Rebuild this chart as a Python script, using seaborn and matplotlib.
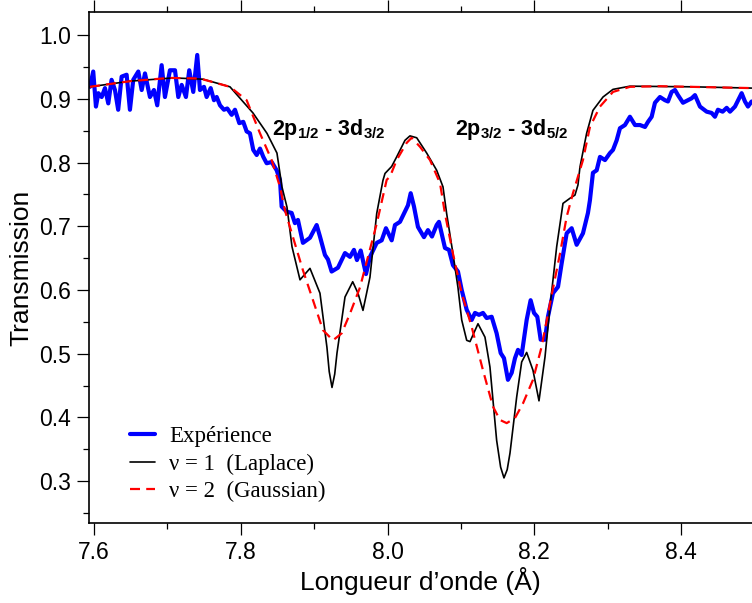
import matplotlib
matplotlib.use("Agg")
import matplotlib.pyplot as plt
import seaborn as sns
import pandas as pd
from matplotlib.ticker import MultipleLocator, FormatStrFormatter

exp_x = [7.5945, 7.599, 7.6027, 7.606, 7.6105, 7.615, 7.6195, 7.624, 7.6286, 7.633,
         7.6377, 7.6445, 7.649, 7.6535, 7.6604, 7.665, 7.6695, 7.6763, 7.6817, 7.6862,
         7.6922, 7.6967, 7.7035, 7.7104, 7.7149, 7.7195, 7.7253, 7.7298, 7.7353, 7.7407,
         7.7444, 7.7499, 7.7535, 7.759, 7.7635, 7.7672, 7.7717, 7.7771, 7.7816, 7.7876,
         7.7921, 7.798, 7.8034, 7.808, 7.8125, 7.817, 7.8217, 7.8262, 7.8307, 7.8353,
         7.8421, 7.8489, 7.8534, 7.8557, 7.8625, 7.8693, 7.8738, 7.8779, 7.8847, 7.8943,
         7.9034, 7.9079, 7.9147, 7.9188, 7.9238, 7.9324, 7.942, 7.9488, 7.9542, 7.9583,
         7.9634, 7.9706, 7.976, 7.9852, 7.992, 7.9978, 8.0056, 8.0101, 8.0169, 8.0237,
         8.0278, 8.0315, 8.036, 8.0414, 8.0496, 8.055, 8.0605, 8.0669, 8.07, 8.0782,
         8.0837, 8.0891, 8.0959, 8.101, 8.1078, 8.1146, 8.1191, 8.1245, 8.13, 8.135,
         8.1418, 8.1486, 8.1541, 8.1586, 8.164, 8.1691, 8.1736, 8.1777, 8.1827, 8.1895,
         8.1949, 8.1995, 8.204, 8.2086, 8.2145, 8.2185, 8.2253, 8.2322, 8.2372, 8.244,
         8.2508, 8.2576, 8.2662, 8.273, 8.2757, 8.2798, 8.2849, 8.2894, 8.2962, 8.303,
         8.3071, 8.3121, 8.3166, 8.3234, 8.3302, 8.3371, 8.3439, 8.3507, 8.3548, 8.3598,
         8.3643, 8.3711, 8.3779, 8.382, 8.387, 8.3916, 8.3956, 8.4025, 8.4093, 8.4143,
         8.4188, 8.4256, 8.4347, 8.4415, 8.446, 8.4501, 8.4565, 8.462, 8.4665, 8.4733,
         8.4824, 8.4869, 8.491, 8.496]
exp_y = [0.919, 0.943, 0.888, 0.909, 0.903, 0.917, 0.893, 0.930, 0.914, 0.883,
         0.935, 0.938, 0.883, 0.930, 0.943, 0.914, 0.940, 0.903, 0.914, 0.890,
         0.953, 0.903, 0.945, 0.945, 0.903, 0.922, 0.903, 0.945, 0.911, 0.969,
         0.914, 0.919, 0.903, 0.917, 0.898, 0.903, 0.890, 0.883, 0.885, 0.875,
         0.883, 0.862, 0.864, 0.849, 0.846, 0.820, 0.812, 0.822, 0.809, 0.799,
         0.801, 0.788, 0.773, 0.731, 0.723, 0.721, 0.705, 0.710, 0.674, 0.682,
         0.702, 0.684, 0.655, 0.648, 0.629, 0.635, 0.658, 0.652, 0.663, 0.647,
         0.662, 0.625, 0.652, 0.674, 0.678, 0.697, 0.678, 0.702, 0.707, 0.723,
         0.733, 0.752, 0.731, 0.699, 0.683, 0.694, 0.684, 0.702, 0.707, 0.666,
         0.663, 0.639, 0.629, 0.600, 0.569, 0.553, 0.564, 0.561, 0.564, 0.556,
         0.558, 0.532, 0.501, 0.493, 0.459, 0.470, 0.493, 0.506, 0.498, 0.553,
         0.584, 0.564, 0.558, 0.522, 0.522, 0.558, 0.595, 0.605, 0.642, 0.689,
         0.697, 0.671, 0.689, 0.721, 0.741, 0.784, 0.788, 0.809, 0.804, 0.815,
         0.820, 0.835, 0.854, 0.859, 0.872, 0.859, 0.859, 0.856, 0.864, 0.872,
         0.894, 0.903, 0.898, 0.896, 0.911, 0.914, 0.906, 0.894, 0.898, 0.901,
         0.906, 0.888, 0.880, 0.878, 0.872, 0.883, 0.880, 0.886, 0.880, 0.888,
         0.909, 0.896, 0.888, 0.896]

# nu = 1 (Laplace) fit
lap_x = [7.5945, 7.65, 7.708, 7.7485, 7.7853, 7.8166, 7.8357, 7.8493, 7.8561, 7.863,
         7.8698, 7.8807, 7.8943, 7.9079, 7.9174, 7.9205, 7.9243, 7.928, 7.9311, 7.942,
         7.9525, 7.9597, 7.9665, 7.976, 7.9852, 7.9937, 7.9965, 8.0056, 8.0124, 8.0237,
         8.0305, 8.0397, 8.0533, 8.0669, 8.0755, 8.0805, 8.0891, 8.0959, 8.101, 8.1078,
         8.1123, 8.1232, 8.1327, 8.1395, 8.1486, 8.154, 8.1586, 8.163, 8.1668, 8.1759,
         8.1827, 8.1895, 8.1981, 8.2063, 8.2145, 8.2213, 8.2304, 8.239, 8.2485, 8.2553,
         8.2594, 8.2621, 8.2712, 8.2798, 8.2935, 8.3071, 8.3302, 8.416, 8.496]
lap_y = [0.919, 0.928, 0.933, 0.931, 0.919, 0.878, 0.846, 0.815, 0.762, 0.730,
         0.668, 0.616, 0.634, 0.595, 0.510, 0.472, 0.447, 0.468, 0.501, 0.589,
         0.613, 0.595, 0.568, 0.620, 0.720, 0.772, 0.783, 0.794, 0.809, 0.835,
         0.842, 0.839, 0.815, 0.788, 0.762, 0.720, 0.657, 0.604, 0.553, 0.521,
         0.519, 0.547, 0.526, 0.479, 0.364, 0.322, 0.305, 0.318, 0.344, 0.432,
         0.487, 0.502, 0.474, 0.426, 0.495, 0.574, 0.668, 0.736, 0.744, 0.749,
         0.765, 0.793, 0.846, 0.882, 0.903, 0.915, 0.920, 0.919, 0.917]

# nu = 2 (Gaussian) fit
gau_x = [7.5945, 7.65, 7.7035, 7.7444, 7.7853, 7.808, 7.8262, 7.8421, 7.8534, 7.8602,
         7.8711, 7.8847, 7.8984, 7.912, 7.9256, 7.9375, 7.9488, 7.9624, 7.9733, 7.9852,
         7.9988, 8.0033, 8.0124, 8.026, 8.0328, 8.0441, 8.0578, 8.0714, 8.0782, 8.0891,
         8.101, 8.1146, 8.13, 8.1436, 8.1531, 8.1623, 8.1736, 8.1845, 8.1981, 8.2099,
         8.2213, 8.2349, 8.244, 8.2526, 8.2662, 8.2757, 8.2894, 8.3071, 8.3302, 8.3711,
         8.496]
gau_y = [0.919, 0.928, 0.933, 0.932, 0.919, 0.898, 0.846, 0.804, 0.762, 0.725,
         0.683, 0.631, 0.584, 0.537, 0.521, 0.532, 0.563, 0.604, 0.652, 0.704,
         0.773, 0.778, 0.804, 0.831, 0.839, 0.825, 0.804, 0.768, 0.720, 0.657,
         0.595, 0.542, 0.474, 0.417, 0.396, 0.391, 0.399, 0.422, 0.459, 0.511,
         0.579, 0.657, 0.715, 0.752, 0.804, 0.856, 0.888, 0.911, 0.919, 0.920,
         0.917]

labels = ["Expérience", "ν = 1  (Laplace)", "ν = 2  (Gaussian)"]
transitions = [r"2p$_{1/2}$ - 3d$_{3/2}$", r"2p$_{3/2}$ - 3d$_{5/2}$"]
transition_x = [7.842, 8.092]
transition_y = [0.843, 0.843]

sns.set_theme(style="ticks")
plt.rcParams["font.family"] = ["Liberation Sans", "DejaVu Sans"]
plt.rcParams["mathtext.fontset"] = "custom"
plt.rcParams["mathtext.bf"] = "Liberation Sans:bold"
plt.rcParams["mathtext.rm"] = "Liberation Sans:bold"
plt.rcParams["mathtext.default"] = "bf"
for key in ["axes.edgecolor", "xtick.color", "ytick.color", "text.color", "axes.labelcolor"]:
    plt.rcParams[key] = "black"

fig = plt.figure(figsize=(7.52, 6.03), dpi=100)
ax = fig.add_axes([0.119, 0.1332, 0.881, 0.8464])

exp_df = pd.DataFrame({"x": exp_x, "y": exp_y})
lap_df = pd.DataFrame({"x": lap_x, "y": lap_y})
gau_df = pd.DataFrame({"x": gau_x, "y": gau_y})

sns.lineplot(data=exp_df, x="x", y="y", ax=ax, color="#0000ff", linewidth=3.0,
             sort=False, estimator=None, label=labels[0])
sns.lineplot(data=lap_df, x="x", y="y", ax=ax, color="black", linewidth=1.2,
             sort=False, estimator=None, label=labels[1])
sns.lineplot(data=gau_df, x="x", y="y", ax=ax, color="#ff0000", linewidth=1.6,
             linestyle=(0, (4.5, 2.8)), sort=False, estimator=None, label=labels[2])

for txt, tx, ty in zip(transitions, transition_x, transition_y):
    ax.text(tx, ty, txt, fontsize=15.5, fontweight="bold", va="baseline", ha="left")

ax.set_xlim(7.5939, 8.4965)
ax.set_ylim(0.2347, 1.036)
ax.xaxis.set_major_locator(MultipleLocator(0.2))
ax.xaxis.set_minor_locator(MultipleLocator(0.1))
ax.yaxis.set_major_locator(MultipleLocator(0.1))
ax.yaxis.set_minor_locator(MultipleLocator(0.05))
ax.yaxis.set_major_formatter(FormatStrFormatter("%.1f"))
ax.xaxis.set_major_formatter(FormatStrFormatter("%.1f"))

ax.tick_params(which="major", direction="out", length=8.6, width=0.9,
               labelsize=16.5, pad=4.5, top=True, right=False)
ax.tick_params(which="minor", direction="out", length=4.3, width=0.9,
               top=True, right=False)
ax.spines["right"].set_visible(False)
for s in ["left", "bottom", "top"]:
    ax.spines[s].set_linewidth(1.2)

ax.set_xlabel("Longueur d’onde (Å)", fontsize=19, labelpad=2)
ax.set_ylabel("Transmission", fontsize=19, labelpad=4)

leg = ax.legend(loc="upper left", bbox_to_anchor=(0.061, 0.189), frameon=False,
                prop={"family": "Liberation Serif", "size": 16.5},
                handlelength=1.1, handletextpad=0.6, labelspacing=0.27,
                borderpad=0, borderaxespad=0)

fig.savefig("out.png", dpi=100)
